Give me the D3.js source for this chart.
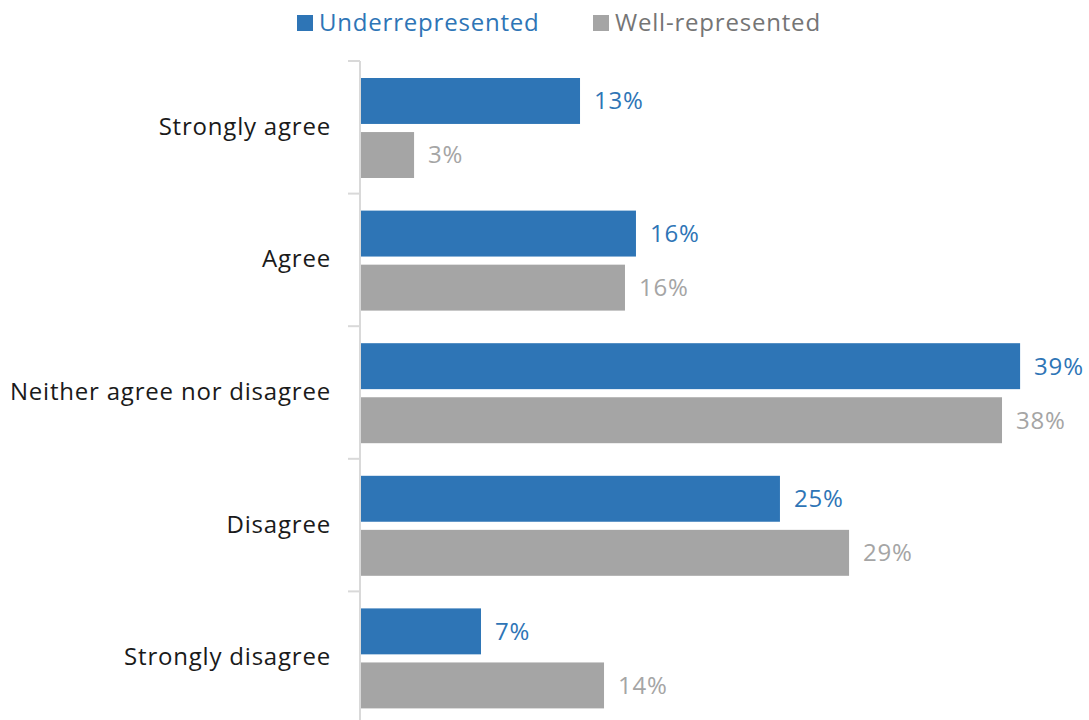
<!DOCTYPE html>
<html>
<head>
<meta charset="utf-8">
<script src="https://cdn.jsdelivr.net/npm/d3@7"></script>
<style>
  body { margin: 0; background: #fff; }
  text { font-family: "Open Sans", sans-serif; letter-spacing: 0.8px; }
</style>
</head>
<body>
<div id="chart"></div>
<script>
const categories = ['Strongly agree', 'Agree', 'Neither agree nor disagree', 'Disagree', 'Strongly disagree']
const seriesNames = ['Underrepresented', 'Well-represented']
const underValues = [0.1296, 0.1627, 0.3900, 0.2479, 0.0710]
const wellValues = [0.0314, 0.1562, 0.3793, 0.2888, 0.1438]
const colors = ['#2E75B6', '#A5A5A5']
const labelColors = ['#2E75B6', '#A5A5A5']
const legendColors = ['#2E75B6', '#757575']

const width = 1089, height = 720
const fontSize = 24

const svg = d3.select('#chart').append('svg')
  .attr('width', width)
  .attr('height', height)

const x = d3.scaleLinear()
  .domain([0, 0.4])
  .range([361, 361 + 0.4 * 1690])

const y = d3.scaleBand()
  .domain(categories)
  .range([61, 61 + 5 * 132.6])

const ySub = d3.scaleBand()
  .domain(seriesNames)
  .range([17, 117])
  .paddingInner(0.15)

const rows = categories.map((c, i) => ({
  cat: c,
  vals: [underValues[i], wellValues[i]]
}))

// axis line + ticks between categories
svg.append('line')
  .attr('x1', 360).attr('x2', 360)
  .attr('y1', y.range()[0]).attr('y2', height)
  .attr('stroke', '#d9d9d9')
  .attr('stroke-width', 2)

svg.selectAll('.tick-line')
  .data(categories)
  .join('line')
  .attr('class', 'tick-line')
  .attr('x1', 348).attr('x2', 360)
  .attr('y1', d => y(d)).attr('y2', d => y(d))
  .attr('stroke', '#d9d9d9')
  .attr('stroke-width', 2)

// category labels
svg.selectAll('.cat-label')
  .data(categories)
  .join('text')
  .attr('class', 'cat-label')
  .attr('x', 331)
  .attr('y', d => y(d) + y.bandwidth() / 2 - 1)
  .attr('dy', '0.35em')
  .attr('text-anchor', 'end')
  .attr('font-size', fontSize)
  .attr('fill', '#1a1a1a')
  .text(d => d)

const groups = svg.selectAll('.row')
  .data(rows)
  .join('g')
  .attr('class', 'row')
  .attr('transform', d => `translate(0, ${y(d.cat)})`)

const fmt = d3.format('.0%')

groups.selectAll('rect')
  .data(d => d.vals.map((v, i) => ({ v, s: seriesNames[i], i })))
  .join('rect')
  .attr('x', x(0))
  .attr('y', d => ySub(d.s))
  .attr('width', d => x(d.v) - x(0))
  .attr('height', ySub.bandwidth())
  .attr('fill', d => colors[d.i])

groups.selectAll('.val')
  .data(d => d.vals.map((v, i) => ({ v, s: seriesNames[i], i })))
  .join('text')
  .attr('class', 'val')
  .attr('x', d => x(d.v) + 14)
  .attr('y', d => ySub(d.s) + ySub.bandwidth() / 2)
  .attr('dy', '0.35em')
  .attr('font-size', fontSize)
  .attr('fill', d => labelColors[d.i])
  .text(d => fmt(d.v))

// legend
const legendX = [297, 593]
const legend = svg.selectAll('.legend')
  .data(seriesNames)
  .join('g')
  .attr('class', 'legend')
  .attr('transform', (d, i) => `translate(${legendX[i]}, 23)`)

legend.append('rect')
  .attr('x', 0).attr('y', -8)
  .attr('width', 16).attr('height', 16)
  .attr('fill', (d, i) => colors[i])

legend.append('text')
  .attr('x', 22)
  .attr('dy', '0.35em')
  .attr('font-size', fontSize)
  .attr('fill', (d, i) => legendColors[i])
  .text(d => d)
</script>
</body>
</html>
